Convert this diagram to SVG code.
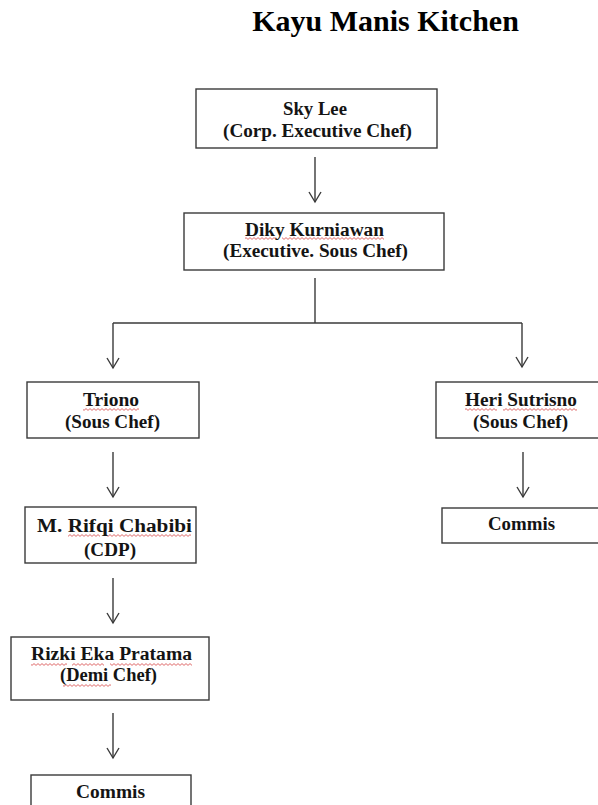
<svg xmlns="http://www.w3.org/2000/svg" width="598" height="805" viewBox="0 0 598 805">
<style>
.box{fill:#fff;stroke:#3a3a3a;stroke-width:1.4}
.t{font-family:"Liberation Serif","Times New Roman",serif;font-weight:bold;font-size:18px;fill:#141414;text-anchor:middle}
.title{font-family:"Liberation Serif","Times New Roman",serif;font-weight:bold;font-size:30px;fill:#000;text-anchor:middle}
.c{fill:none;stroke:#3a3a3a;stroke-width:1.4}
.sq{fill:url(#squiggle)}
</style>
<defs>
<marker id="arr" viewBox="-12 -8 14 16" refX="0" refY="0" markerWidth="14" markerHeight="16" markerUnits="userSpaceOnUse" orient="auto">
<path d="M-10,-6 L0,0 L-10,6" fill="none" stroke="#3a3a3a" stroke-width="1.4"/>
</marker>
<pattern id="squiggle" patternUnits="userSpaceOnUse" width="4" height="3">
<polyline points="0,2.4 2,0.6 4,2.4" fill="none" stroke="#d64545" stroke-width="0.8"/>
</pattern>
</defs>
<rect width="598" height="805" fill="#fff"/>
<text class="title" x="385.5" y="31">Kayu Manis Kitchen</text>

<g id="connectors">
<line class="c" x1="315" y1="157" x2="315" y2="202" marker-end="url(#arr)"/>
<polyline class="c" points="315,278 315,323"/>
<polyline class="c" points="113,323 522,323"/>
<line class="c" x1="113" y1="323" x2="113" y2="368" marker-end="url(#arr)"/>
<line class="c" x1="522" y1="323" x2="522" y2="367" marker-end="url(#arr)"/>
<line class="c" x1="113" y1="452" x2="113" y2="497" marker-end="url(#arr)"/>
<line class="c" x1="113" y1="578" x2="113" y2="623" marker-end="url(#arr)"/>
<line class="c" x1="113" y1="713" x2="113" y2="758" marker-end="url(#arr)"/>
<line class="c" x1="523" y1="452" x2="523" y2="497" marker-end="url(#arr)"/>
</g>

<g id="sky-lee">
<rect class="box" x="196" y="89" width="241" height="59"/>
<text class="t" x="315" y="115" textLength="64" lengthAdjust="spacingAndGlyphs">Sky Lee</text>
<text class="t" x="317.5" y="137" textLength="189" lengthAdjust="spacingAndGlyphs">(Corp. Executive Chef)</text>
</g>

<g id="diky">
<rect class="box" x="184" y="213" width="260" height="57"/>
<rect class="sq" x="245" y="237" width="32" height="3"/>
<rect class="sq" x="282" y="237" width="102" height="3"/>
<text class="t" x="314.5" y="236" textLength="139" lengthAdjust="spacingAndGlyphs">Diky Kurniawan</text>
<text class="t" x="315.5" y="257" textLength="185" lengthAdjust="spacingAndGlyphs">(Executive. Sous Chef)</text>
</g>

<g id="triono">
<rect class="box" x="27" y="382" width="172" height="56"/>
<rect class="sq" x="83" y="408" width="56" height="3"/>
<text class="t" x="111" y="406" textLength="56" lengthAdjust="spacingAndGlyphs">Triono</text>
<text class="t" x="112.5" y="428" textLength="95" lengthAdjust="spacingAndGlyphs">(Sous Chef)</text>
</g>

<g id="rifqi">
<rect class="box" x="25" y="507" width="171" height="56"/>
<rect class="sq" x="68" y="534" width="32" height="3"/>
<rect class="sq" x="105" y="534" width="86" height="3"/>
<text class="t" x="114.5" y="532" textLength="155" lengthAdjust="spacingAndGlyphs">M.  Rifqi Chabibi</text>
<text class="t" x="110" y="556" textLength="52" lengthAdjust="spacingAndGlyphs">(CDP)</text>
</g>

<g id="rizki">
<rect class="box" x="11" y="637" width="198" height="63"/>
<rect class="sq" x="31" y="663" width="36" height="3"/>
<rect class="sq" x="72" y="663" width="32" height="3"/>
<rect class="sq" x="110" y="663" width="82" height="3"/>
<rect class="sq" x="63" y="684" width="48" height="3"/>
<text class="t" x="111.5" y="660" textLength="161" lengthAdjust="spacingAndGlyphs">Rizki Eka Pratama</text>
<text class="t" x="108.5" y="681" textLength="97" lengthAdjust="spacingAndGlyphs">(Demi Chef)</text>
</g>

<g id="commis-left">
<rect class="box" x="31" y="775" width="160" height="40"/>
<text class="t" x="110.5" y="798" textLength="69" lengthAdjust="spacingAndGlyphs">Commis</text>
</g>

<g id="heri">
<rect class="box" x="436" y="382" width="170" height="56"/>
<rect class="sq" x="465" y="408" width="32" height="3"/>
<rect class="sq" x="503" y="408" width="74" height="3"/>
<text class="t" x="521" y="406" textLength="112" lengthAdjust="spacingAndGlyphs">Heri Sutrisno</text>
<text class="t" x="520.5" y="428" textLength="95" lengthAdjust="spacingAndGlyphs">(Sous Chef)</text>
</g>

<g id="commis-right">
<rect class="box" x="442" y="508" width="164" height="35"/>
<text class="t" x="521.5" y="530" textLength="67" lengthAdjust="spacingAndGlyphs">Commis</text>
</g>
</svg>
